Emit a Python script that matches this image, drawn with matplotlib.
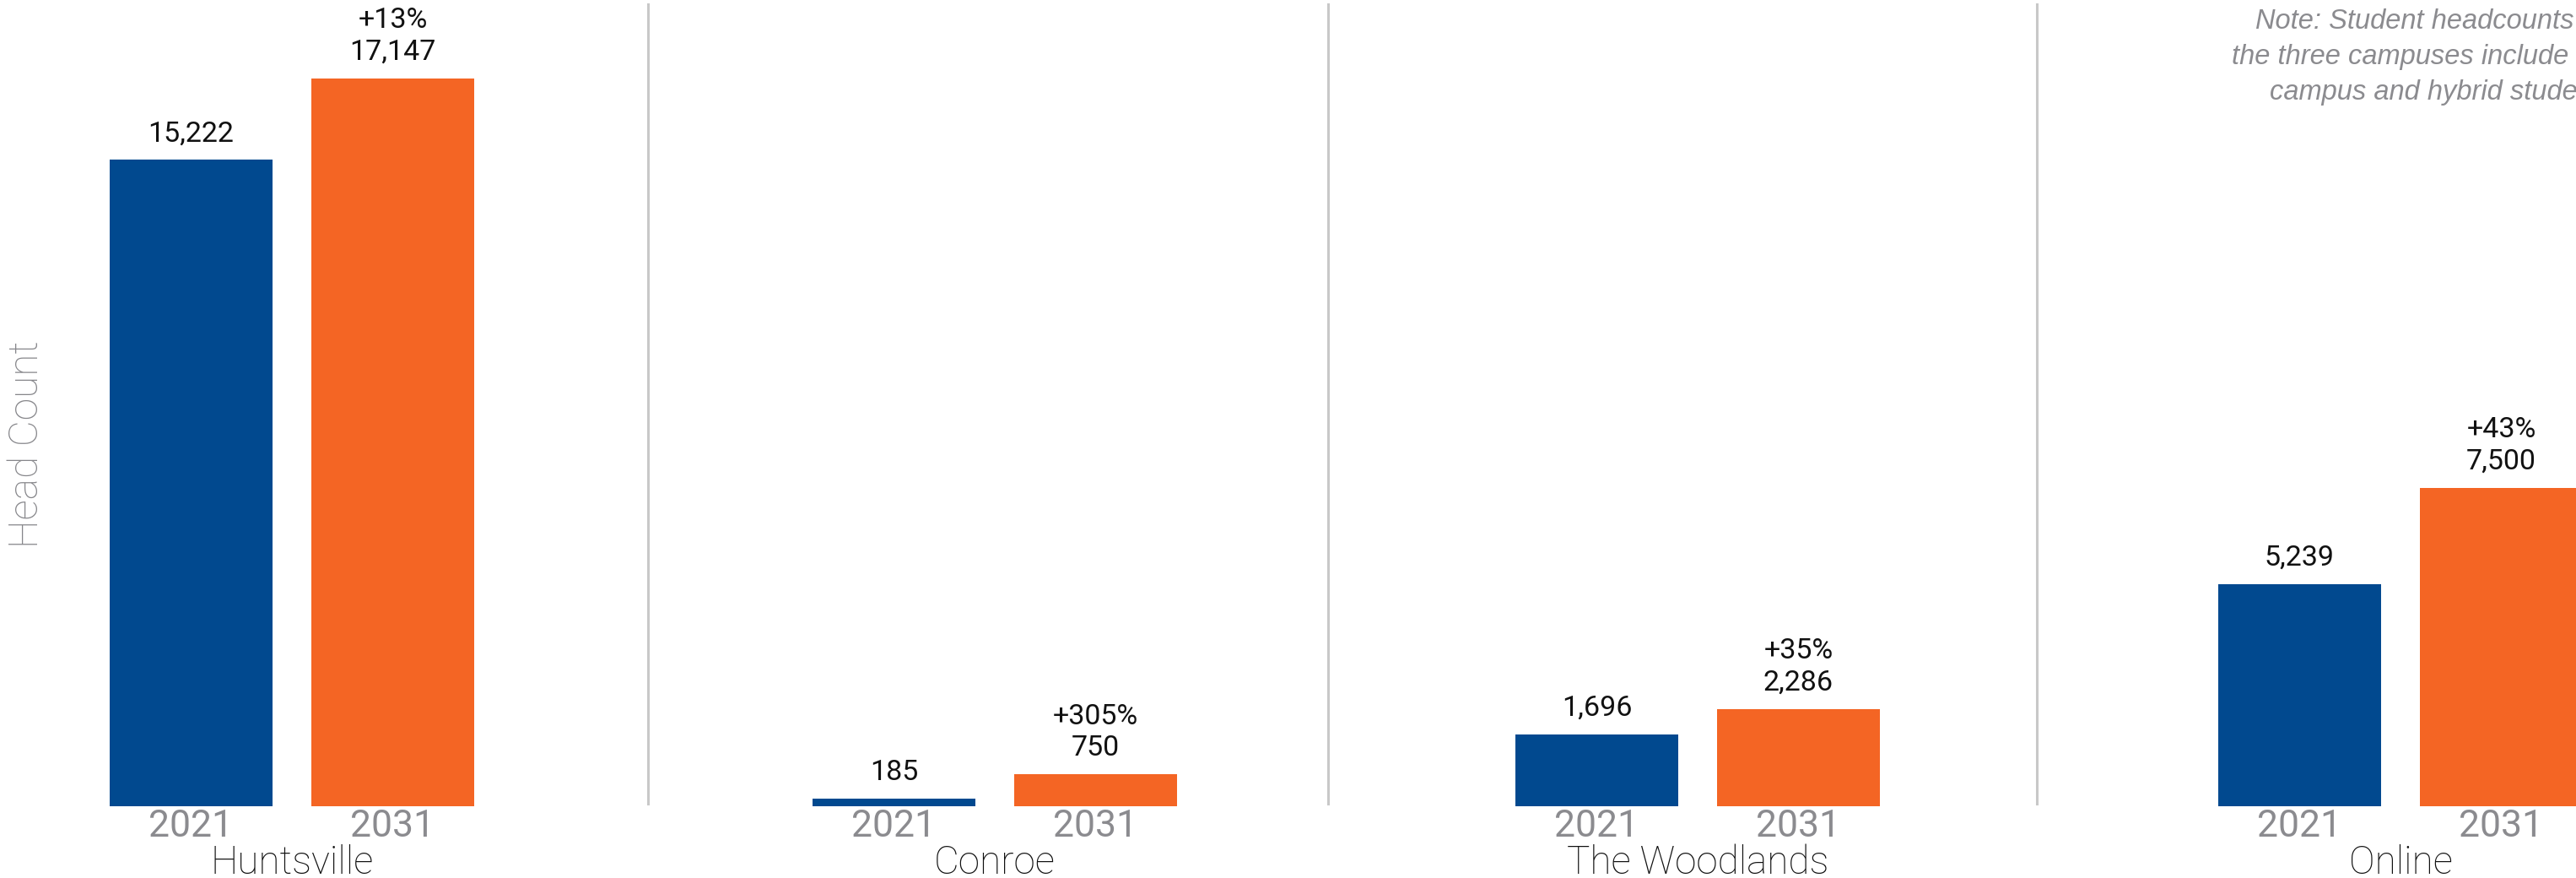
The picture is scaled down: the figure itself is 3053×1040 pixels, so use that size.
import numpy as np
import matplotlib
matplotlib.use("Agg")
import matplotlib.pyplot as plt
from matplotlib.transforms import blended_transform_factory

# ---- data ----
campuses = ["Huntsville", "Conroe", "The Woodlands", "Online"]
years = ["2021", "2031"]
head_2021 = [15222, 185, 1696, 5239]
head_2031 = [17147, 750, 2286, 7500]
note_lines = ["Note: Student headcounts for",
              "the three campuses include on-",
              "campus and hybrid students."]
y_label = "Head Count"

BLUE = "#01498F"
ORANGE = "#F46524"
GRAY = "#8B8B8F"
DIV = "#C8C8C8"

W, H = 3053, 1040
fig = plt.figure(figsize=(W / 100, H / 100), dpi=100)
base_px = 955
ax = fig.add_axes([0, (H - base_px) / H, 1, base_px / H])

x = np.arange(len(campuses))
off = 0.1435
bw = 0.2317
ax.bar(x - off, head_2021, width=bw, color=BLUE, zorder=2)
ax.bar(x + off, head_2031, width=bw, color=ORANGE, zorder=2)

ax.set_xlim(-0.4154, 3.2497)
ax.set_ylim(0, 18990)
for s in ax.spines.values():
    s.set_visible(False)
ax.set_yticks([])

# year tick labels
ticks = np.concatenate([x - off, x + off])
labels = [years[0]] * len(x) + [years[1]] * len(x)
ax.set_xticks(ticks)
ax.set_xticklabels(labels)
ax.tick_params(axis="x", length=0, pad=2, labelsize=32, labelcolor=GRAY)
for t in ax.get_xticklabels():
    t.set_fontfamily("Roboto")
    t.set_fontweight("normal")

# value labels
LBL = dict(ha="center", va="baseline", fontsize=24.5, family="Roboto", color="#111111")
for xi, v1, v2 in zip(x, head_2021, head_2031):
    ax.annotate(f"{v1:,}", (xi - off, v1), xytext=(0, 15.8), textcoords="offset points", **LBL)
    ax.annotate(f"{v2:,}", (xi + off, v2), xytext=(0, 15.8), textcoords="offset points", **LBL)
    pct = round((v2 / v1 - 1) * 100)
    ax.annotate(f"+{pct}%", (xi + off, v2), xytext=(0, 43), textcoords="offset points", **LBL)

# dividers between campuses
for d in [0.5066, 1.4742, 2.4826]:
    ax.axvline(d, ymin=0.003, ymax=0.9948, color=DIV, lw=2.2, zorder=1)

# campus names
tr = blended_transform_factory(ax.transData, fig.transFigure)
for xi, name in zip(x, campuses):
    ax.text(xi, 5 / H, name, transform=tr, ha="center", va="baseline", fontsize=33,
            family="Roboto", fontweight="light", color="#111111", clip_on=False)

# y label
fig.text(9 / W, 1 - 526 / H, y_label, rotation=90, ha="left", va="center",
         fontsize=34.5, family="Roboto", fontweight="light", color="#86868A")

# note
note_x = [2673, 2645, 2690]
note_base = [34, 76, 118]
for nx, ny, line in zip(note_x, note_base, note_lines):
    fig.text(nx / W, 1 - ny / H, line, ha="left", va="baseline", fontsize=23.5,
             family="Liberation Sans", style="italic", color=GRAY)

fig.savefig("out.png", dpi=100)
